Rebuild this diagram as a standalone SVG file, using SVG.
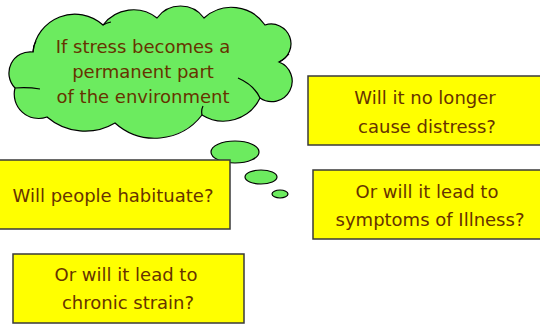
<svg xmlns="http://www.w3.org/2000/svg" width="540" height="324" viewBox="0 0 540 324">
<style>
.box{fill:#FFFF00;stroke:#3a3a3a;stroke-width:1.5}
.bub{fill:#6CEB5F;stroke:#000;stroke-width:1.2}
.notch{fill:none;stroke:#000;stroke-width:1.2}
text{font-family:"DejaVu Sans",Verdana,sans-serif;font-size:18px;fill:#663300;text-anchor:middle}
</style>
<rect width="540" height="324" fill="#fff"/>
<g id="cloud">
<path class="bub" d="M33 52 A42 42 0 0 1 103 25 A38 38 0 0 1 157 18 A29 29 0 0 1 204 18 A40.6 40.6 0 0 1 265 25 A19.8 19.8 0 0 1 279 62 A20.5 20.5 0 1 1 260 98 A40.5 40.5 0 0 1 202 115 A59.6 59.6 0 0 1 115 123 A58.5 58.5 0 0 1 47 117 A24.4 24.4 0 0 1 15 88 A21.3 21.3 0 0 1 33 52 Z"/>
<path class="notch" d="M15 88 Q28 87 40 89 M279 62 Q285 59 289 54 M238 78 Q254 85 260 98 M202 115 Q201 110 203 106 M33 52 Q33 46 36 41 M103 25 Q106 23 111 22"/>
<text x="143" y="53">If stress becomes a</text>
<text x="143" y="78">permanent part</text>
<text x="143" y="103">of the environment</text>
</g>
<g id="thought-bubbles">
<ellipse class="bub" cx="235" cy="152" rx="24" ry="11"/>
<ellipse class="bub" cx="261" cy="177" rx="16" ry="7"/>
<ellipse class="bub" cx="280" cy="194" rx="8" ry="4"/>
</g>
<g id="no-longer">
<rect class="box" x="308" y="76" width="240" height="69"/>
<text x="425" y="104">Will it no longer</text>
<text x="427" y="133">cause distress?</text>
</g>
<g id="symptoms">
<rect class="box" x="313" y="170" width="240" height="69"/>
<text x="427" y="198">Or will it lead to</text>
<text x="430" y="226">symptoms of Illness?</text>
</g>
<g id="habituate">
<rect class="box" x="-10" y="160" width="240" height="69"/>
<text x="113" y="202">Will people habituate?</text>
</g>
<g id="chronic">
<rect class="box" x="13" y="254" width="231" height="69"/>
<text x="126" y="281">Or will it lead to</text>
<text x="128" y="309">chronic strain?</text>
</g>
</svg>
